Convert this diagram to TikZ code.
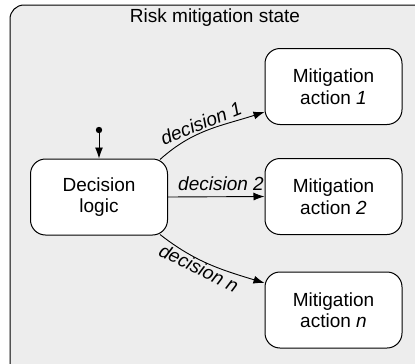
\documentclass[tikz,border=0pt]{standalone}
\usepackage{fontspec}
\setmainfont{Liberation Sans}
\usetikzlibrary{arrows.meta}
\definecolor{stateback}{HTML}{EDEDED}
\begin{document}
\begin{tikzpicture}[x=1pt,y=-1pt,
  every node/.style={font=\fontsize{19pt}{21.5pt}\selectfont},
  actbox/.style={draw, fill=white, rounded corners=15pt, line width=1pt,
    minimum width=137pt, minimum height=76pt, align=center, inner sep=0pt},
  trans/.style={-{Latex[length=11pt,width=8pt]}, line width=0.9pt},
  lbl/.style={font=\fontsize{19pt}{21.5pt}\selectfont\itshape, inner sep=0pt}]
\useasboundingbox (0,0) rectangle (415,364);
% enclosing state
\draw[fill=stateback, line width=1pt, rounded corners=14pt] (10,5) rectangle (440,390);
\node (title) at (215,18) {Risk mitigation state};
% inner states
\node[actbox] (logic) at (99,197) {Decision\\logic};
\node[actbox] (act1) at (333.5,86.5) {Mitigation\\action \textit{1}};
\node[actbox] (act2) at (333.5,196.5) {Mitigation\\action \textit{2}};
\node[actbox] (actn) at (333.5,310) {Mitigation\\action \textit{n}};
% initial pseudo-state
\fill (99,130) circle (3.2pt) coordinate (init);
\draw[trans] (init) -- (logic.north);
% transitions
\draw[trans] (logic.north east) ++(-8,1) coordinate (s1) to[out=42,in=198] (act1.west |- 0,112) coordinate (e1);
\draw[trans] (logic.east) -- (act2.west);
\draw[trans] (logic.south east) ++(-8,-1) coordinate (sn) to[out=-38,in=163] (actn.west |- 0,283) coordinate (en);
\node[lbl, rotate=22] (d1) at (201,123) {decision 1};
\node[lbl] (d2) at (221,184) {decision 2};
\node[lbl, rotate=-26] (dn) at (199,268) {decision \textit{n}};
\end{tikzpicture}
\end{document}
